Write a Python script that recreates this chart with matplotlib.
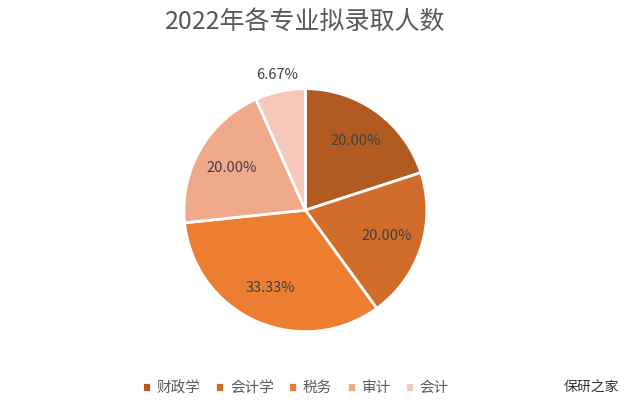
import matplotlib.pyplot as plt

plt.rcParams['font.family'] = ['Noto Sans CJK SC', 'DejaVu Sans']

majors = ['财政学', '会计学', '税务', '审计', '会计']
counts = [3, 3, 5, 3, 1]
colors = ['#B15A22', '#D26C2B', '#ED7D31', '#F1A98B', '#F6C8BA']

fig = plt.figure(figsize=(6.29, 4.13), dpi=100)
ax = fig.add_axes([0.0, 0.0, 1.0, 1.0])

wedges, texts, autotexts = ax.pie(
    counts, colors=colors, startangle=90, counterclock=False,
    autopct='%.2f%%', pctdistance=0.7, radius=1.0,
    wedgeprops=dict(edgecolor='white', linewidth=2),
    textprops=dict(fontsize=10.5, color='#404040'),
    center=(0, 0))
# small slice label sits outside the pie
x, y = autotexts[-1].get_position()
autotexts[-1].set_position((x * 1.62, y * 1.62))

ax.set_xlim(-2.50, 2.65)
ax.set_ylim(-1.67, 1.73)
ax.set_aspect('equal')
ax.axis('off')

fig.text(0.485, 0.947, '2022年各专业拟录取人数', ha='center', va='center',
         fontsize=18, color='#595959')

leg = ax.legend(wedges, majors, loc='center', bbox_to_anchor=(0.47, 0.06),
                ncol=5, frameon=False, fontsize=10.5, handlelength=0.6,
                handleheight=0.6, columnspacing=1.0, handletextpad=0.4)
for t in leg.get_texts():
    t.set_color('#595959')

fig.text(0.985, 0.06, '保研之家', ha='right', va='center', fontsize=10, color='#333333')

fig.savefig('out.png', dpi=100)
